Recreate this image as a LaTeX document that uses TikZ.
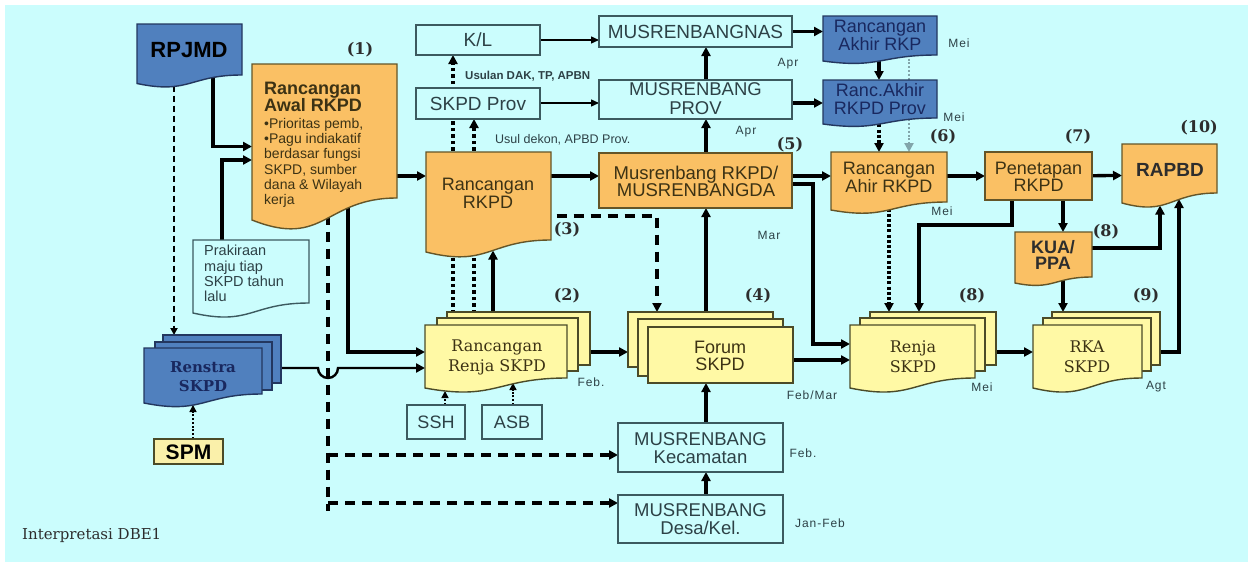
\documentclass[tikz,border=0pt]{standalone}
\usepackage{fontspec}
\setmainfont{DejaVu Serif}
\setsansfont{Liberation Sans}
\newfontfamily\arialf{Liberation Sans}
\newfontfamily\serf{DejaVu Serif}
\newfontfamily\spacedf[LetterSpace=8]{Liberation Sans}
\usetikzlibrary{arrows.meta}

\definecolor{bgc}{RGB}{203,253,253}
\definecolor{orfill}{RGB}{250,192,100}
\definecolor{orline}{RGB}{100,85,40}
\definecolor{blfill}{RGB}{80,128,190}
\definecolor{blline}{RGB}{35,55,95}
\definecolor{yefill}{RGB}{255,249,165}
\definecolor{yeline}{RGB}{75,75,40}
\definecolor{wline}{RGB}{60,90,95}
\definecolor{spmf}{RGB}{250,240,170}
\definecolor{txo}{RGB}{60,50,20}
\definecolor{txb}{RGB}{25,40,95}
\definecolor{txw}{RGB}{45,65,70}
\definecolor{dotg}{RGB}{130,165,170}
\definecolor{lblc}{RGB}{45,45,45}

\newcommand\fA[2]{\arialf\fontsize{#1}{#2}\selectfont}
\newcommand\fS[2]{\serf\fontsize{#1}{#2}\selectfont}
\newcommand\fM[2]{\spacedf\fontsize{#1}{#2}\selectfont}

% document shape: [style]{x1}{y1}{x2}{yRight}{yLeft}
\newcommand\docsh[6][]{%
  \pgfmathsetmacro\dxm{(#2+#4)/2}%
  \pgfmathsetmacro\dyc{#6+1.31*(#6-#5)}%
  \draw[#1] (#2,#3) -- (#4,#3) -- (#4,#5) .. controls (\dxm,#5) and (\dxm,\dyc) .. (#2,#6) -- cycle;}

\tikzset{
  bb/.style n args={4}{shape=rectangle, inner sep=0pt, outer sep=0pt,
    minimum width={#3-#1}, minimum height={#4-#2},
    at={({(#1+#3)/2},{(#2+#4)/2})}},
  arr/.style={-{Triangle[length=9pt,width=9pt]}},
  sarr/.style={-{Triangle[length=7pt,width=7pt]}},
  con/.style={line width=3.3pt, arr},
  thn/.style={line width=1.4pt, -{Triangle[length=8pt,width=7pt]}},
  dsh/.style={line width=3.3pt, dash pattern=on 10pt off 7pt},
  dota/.style={line width=4.5pt, dash pattern=on 3.5pt off 3pt},
  dotb/.style={line width=3.3pt, dash pattern=on 3pt off 2.2pt},
  dotc/.style={line width=1.5pt, dash pattern=on 2pt off 1.8pt},
  orng/.style={fill=orfill, draw=orline, line width=1.4pt},
  blu/.style={fill=blfill, draw=blline, line width=1.4pt},
  yelsh/.style={fill=yefill, draw=yeline, line width=1.4pt},
  whsh/.style={fill=bgc, draw=wline, line width=1.4pt},
  txt/.style={inner sep=0pt, align=center},
  lbl/.style={inner sep=0pt, text=lblc, font={\fS{16}{18}\bfseries}},
  mon/.style={inner sep=0pt, text=txw, font={\fM{12}{14}}},
}

\begin{document}
\begin{tikzpicture}[x=1pt,y=-1pt]
\fill[white] (0,0) rectangle (1248,565);
\useasboundingbox (0,0) rectangle (1248,565);
\fill[bgc] (5,5) rectangle (1248,562);

% ---------- bounding nodes ----------
\node[bb={137}{24}{242}{87}] (rpjmd) {};
\node[bb={252}{64}{397}{229}] (awal) {};
\node[bb={193}{240}{309}{317}] (prak) {};
\node[bb={144}{335}{281}{407}] (renstra) {};
\node[bb={154}{439}{223}{464}] (spm) {};
\node[bb={416}{25}{540}{55}] (kl) {};
\node[bb={416}{88}{540}{119}] (skpdprov) {};
\node[bb={599}{16}{792}{47}] (nas) {};
\node[bb={599}{80}{792}{119}] (prov) {};
\node[bb={823}{16}{937}{63}] (rkp) {};
\node[bb={823}{80}{937}{127}] (rkpdprov) {};
\node[bb={426}{152}{551}{257}] (rkpd) {};
\node[bb={599}{153}{792}{208}] (musrkpd) {};
\node[bb={831}{152}{947}{213}] (ahir) {};
\node[bb={985}{152}{1092}{200}] (penetapan) {};
\node[bb={1122}{144}{1217}{207}] (rapbd) {};
\node[bb={1015}{232}{1092}{285}] (kua) {};
\node[bb={425}{312}{590}{392}] (renja2) {};
\node[bb={628}{312}{793}{383}] (forum) {};
\node[bb={850}{312}{996}{392}] (renja) {};
\node[bb={1033}{312}{1160}{392}] (rka) {};
\node[bb={407}{405}{465}{439}] (ssh) {};
\node[bb={482}{405}{542}{439}] (asb) {};
\node[bb={618}{423}{783}{472}] (kec) {};
\node[bb={618}{495}{783}{543}] (desa) {};

\coordinate (j1) at (328,455);
\coordinate (j2) at (328,503);
\coordinate (dvend) at (328,511);

% ---------- connectors ----------
\draw[con] ([xshift=23.5pt]rpjmd.center) |- (awal.west);
\draw[con] ([xshift=-29pt]prak.center) |- ([yshift=-13.5pt]awal.west);
\draw[line width=2.4pt, dash pattern=on 6pt off 4pt, sarr] ([xshift=-15.5pt]rpjmd.center) -- ([xshift=-38.5pt]renstra.north);
\draw[dotc, sarr] ([xshift=4.5pt]spm.north) -- ([xshift=-19.5pt,yshift=-34pt]renstra.center);
\draw[con] ([yshift=-29.5pt]awal.center) -- ([yshift=28.5pt]rkpd.west);
\draw[con] ([xshift=23.5pt]awal.center) |- (renja2.west);
\draw[line width=2.4pt, arr] ([yshift=3pt]renstra.center) -- ++(105.5,0) arc[start angle=180,end angle=0,radius=10] -- ([yshift=-16pt]renja2.west);
\draw[dsh] ([xshift=3.5pt]awal.center) -- (dvend);
\draw[dsh, arr] (j1) -- ([yshift=-7.5pt]kec.west);
\draw[dsh, arr] (j2) -- ([yshift=16pt]desa.west);
\draw[dota] ([xshift=-54.5pt]renja2.center) -- ([xshift=-25pt]skpdprov.center);
\draw[dota, arr] ([xshift=-25pt]skpdprov.center) -- ([xshift=-25pt]kl.south);
\draw[dota, arr] ([xshift=-33.5pt]renja2.center) -- ([xshift=-4pt]skpdprov.south);
\draw[con] ([xshift=-14.5pt]renja2.center) -- ([xshift=4.5pt,yshift=-46pt]rkpd.center);
\draw[dsh, arr] ([yshift=-11.5pt]rkpd.center) -| ([xshift=-53.5pt]forum.north);
\draw[con] (renja2.center) -- ([yshift=-4.5pt]forum.west);
\draw[con] ([xshift=-4.5pt]forum.center) -- ([xshift=10.5pt]musrkpd.south);
\draw[con] ([xshift=5.5pt]kec.center) -- ([xshift=-4.5pt]forum.south);
\draw[con] ([xshift=5.5pt]desa.center) -- ([xshift=5.5pt]kec.south);
\draw[con] ([yshift=28.5pt]rkpd.center) -- ([yshift=4.5pt]musrkpd.west);
\draw[con] ([xshift=10.5pt]musrkpd.center) -- ([xshift=10.5pt]prov.south);
\draw[con] ([xshift=10.5pt]prov.center) -- ([xshift=10.5pt]nas.south);
\draw[thn] (kl.center) -- ([yshift=-8.5pt]nas.west);
\draw[thn] ([yshift=0.5pt]skpdprov.center) -- ([yshift=-3.5pt]prov.west);
\draw[con] (nas.center) -- ([yshift=8pt]rkp.west);
\draw[con] ([yshift=-3.5pt]prov.center) -- ([yshift=0.5pt]rkpdprov.west);
\draw[con] ([xshift=-1pt]rkp.center) -- ([xshift=-1pt]rkpdprov.north);
\draw[dotc, draw=dotg, line width=2.2pt, arr] ([xshift=29pt]rkp.center) -- ([xshift=20pt]ahir.north);
\draw[dotb, arr] ([xshift=-1pt]rkpdprov.center) -- ([xshift=-10pt]ahir.north);
\draw[con] ([yshift=4.5pt]musrkpd.center) -- ([yshift=6.5pt]ahir.west);
\draw[con] ([yshift=-3.5pt]musrkpd.center) -| ([xshift=-37pt,yshift=8pt]renja.west) -- ([yshift=8pt]renja.west);
\draw[con] ([yshift=-12.5pt]forum.center) -- ([yshift=-8pt]renja.west);
\draw[dotb, arr] (ahir.center) -- ([xshift=-34pt]renja.north);
\draw[con] ([xshift=-26.5pt]penetapan.center) |- ([xshift=-4pt,yshift=87pt]renja.north) -- ([xshift=-4pt]renja.north);
\draw[con] ([yshift=6.5pt]ahir.center) -- (penetapan.west);
\draw[con] (penetapan.center) -- (rapbd.west);
\draw[con] ([xshift=24.5pt]penetapan.center) -- ([xshift=9.5pt]kua.north);
\draw[con] ([yshift=10.5pt]kua.center) -| ([xshift=-9.5pt,yshift=-30pt]rapbd.center);
\draw[con] ([xshift=9.5pt]kua.center) -- ([xshift=-33.5pt]rka.north);
\draw[con] (renja.center) -- (rka.west);
\draw[con] (rka.center) -| ([xshift=9.5pt,yshift=-23.5pt]rapbd.center);
\draw[dotc, sarr] ([xshift=9pt]ssh.north) -- ([xshift=-62.5pt,yshift=-39pt]renja2.center);
\draw[dotc, sarr] ([xshift=1pt]asb.north) -- ([xshift=5.5pt,yshift=-31pt]renja2.center);

% ---------- shapes ----------
\docsh[blu]{137}{24}{242}{75}{83.5}
\docsh[orng]{252}{64}{397}{198}{220}
\docsh[whsh]{193}{240}{309}{303}{313}
\docsh[orng]{426}{152}{551}{240}{252}
\docsh[orng]{831}{152}{947}{202}{210}
\docsh[orng]{1122}{144}{1217}{193}{203}
\docsh[orng]{1015}{232}{1092}{277}{283}
\docsh[blu]{823}{16}{937}{55}{61}
\docsh[blu]{823}{80}{937}{118}{124}
% stacks
\draw[blu] (163,335) rectangle (281,383);
\draw[blu] (155,342) rectangle (272,390);
\docsh[blu]{144}{348}{262}{394}{403}
\draw[yelsh] (447,312) rectangle (590,365);
\draw[yelsh] (437,318) rectangle (578,371);
\docsh[yelsh]{425}{325}{567}{378}{388}
\draw[yelsh] (628,312) rectangle (773,367);
\draw[yelsh] (638,319) rectangle (783,376);
\draw[yelsh] (648,327) rectangle (793,383);
\draw[yelsh] (870,312) rectangle (996,365);
\draw[yelsh] (860,318) rectangle (985,371);
\docsh[yelsh]{850}{325}{975}{378}{388}
\draw[yelsh] (1052,312) rectangle (1160,365);
\draw[yelsh] (1043,318) rectangle (1151,371);
\docsh[yelsh]{1033}{325}{1142}{378}{388}
% rectangles
\draw[whsh] (kl.north west) rectangle (kl.south east);
\draw[whsh] (skpdprov.north west) rectangle (skpdprov.south east);
\draw[whsh] (nas.north west) rectangle (nas.south east);
\draw[whsh] (prov.north west) rectangle (prov.south east);
\draw[orng] (musrkpd.north west) rectangle (musrkpd.south east);
\draw[orng] (penetapan.north west) rectangle (penetapan.south east);
\draw[whsh] (ssh.north west) rectangle (ssh.south east);
\draw[whsh] (asb.north west) rectangle (asb.south east);
\draw[whsh] (kec.north west) rectangle (kec.south east);
\draw[whsh] (desa.north west) rectangle (desa.south east);
\draw[fill=spmf, draw=yeline, line width=1.4pt] (spm.north west) rectangle (spm.south east);

% ---------- texts ----------
\node[txt, font={\fA{22}{24}\bfseries}] (rpjmd-t) at (189,50) {RPJMD};
\node[txt, anchor=north west, align=left, text=txo, font={\fA{18}{17}\bfseries}] (awal-t1) at (264,82) {Rancangan\\Awal RKPD};
\node[txt, anchor=north west, align=left, text=txo, font={\fA{14}{15.3}}] (awal-t2) at (264,118) {•Prioritas pemb,\\•Pagu indiakatif\\berdasar fungsi\\SKPD, sumber\\dana \& Wilayah\\kerja};
\node[txt, anchor=north west, align=left, text=txw, font={\fA{14.5}{15.3}}] (prak-t) at (204,245) {Prakiraan\\maju tiap\\SKPD tahun\\lalu};
\node[txt, text=txb, font={\fS{15}{19}\bfseries}] (renstra-t) at (203,376.5) {Renstra\\SKPD};
\node[txt, font={\fA{21}{23}\bfseries}] (spm-t) at (188.5,452) {SPM};
\node[txt, text=txw, font={\fA{19}{21}}] (kl-t) at (478,40) {K/L};
\node[txt, text=txw, font={\fA{19}{21}}] (skpdprov-t) at (478,103.5) {SKPD Prov};
\node[txt, text=txw, font={\fA{19}{21}}] (nas-t) at (695.5,31.5) {MUSRENBANGNAS};
\node[txt, text=txw, font={\fA{18.5}{19}}] (prov-t) at (695.5,99) {MUSRENBANG\\PROV};
\node[txt, text=txb, font={\fA{18}{16.5}}] (rkp-t) at (880,35) {Rancangan\\Akhir RKP};
\node[txt, text=txb, font={\fA{18}{18}}] (rkpdprov-t) at (880,99) {Ranc.Akhir\\RKPD Prov};
\node[txt, text=txo, font={\fA{18}{17.5}}] (rkpd-t) at (488,193.5) {Rancangan\\RKPD};
\node[txt, text=txo, font={\fA{18.5}{17.5}}] (musrkpd-t) at (696,181.5) {Musrenbang RKPD/\\MUSRENBANGDA};
\node[txt, text=txo, font={\fA{18}{18.5}}] (ahir-t) at (889,177.5) {Rancangan\\Ahir RKPD};
\node[txt, text=txo, font={\fA{18}{17}}] (penetapan-t) at (1038.5,176.5) {Penetapan\\RKPD};
\node[txt, text=lblc, font={\fA{19}{21}\bfseries}] (rapbd-t) at (1170,170) {RAPBD};
\node[txt, text=lblc, font={\fA{18}{16}\bfseries}] (kua-t) at (1053,255) {KUA/\\PPA};
\node[txt, text=txo, font={\fS{16}{20}}] (renja2-t) at (497,357) {Rancangan\\Renja SKPD};
\node[txt, text=txo, font={\fA{18}{17}}] (forum-t) at (720,355.5) {Forum\\SKPD};
\node[txt, text=txo, font={\fS{16}{20}}] (renja-t) at (913,357) {Renja\\SKPD};
\node[txt, text=txo, font={\fS{16}{20}}] (rka-t) at (1087,357) {RKA\\SKPD};
\node[txt, text=txw, font={\fA{18}{20}}] (ssh-t) at (436,422) {SSH};
\node[txt, text=txw, font={\fA{18}{20}}] (asb-t) at (512,422) {ASB};
\node[txt, text=txw, font={\fA{18.5}{18}}] (kec-t) at (700.5,448) {MUSRENBANG\\Kecamatan};
\node[txt, text=txw, font={\fA{18.5}{18}}] (desa-t) at (700.5,519) {MUSRENBANG\\Desa/Kel.};

% small labels
\node[inner sep=0pt, anchor=west, text=txw, font={\fA{11.5}{13}\bfseries}] (usulan) at (465,76) {Usulan DAK, TP, APBN};
\node[inner sep=0pt, anchor=west, text=txw, font={\fA{12.5}{14}}] (usul) at (495,140) {Usul dekon, APBD Prov.};
\node[inner sep=0pt, anchor=west, text=lblc, font={\fS{15}{17}}] (interp) at (22,535) {Interpretasi DBE1};

\node[lbl] (n1) at (360,50) {(1)};
\node[lbl] (n2) at (567,296) {(2)};
\node[lbl] (n3) at (567,230) {(3)};
\node[lbl] (n4) at (758,296) {(4)};
\node[lbl] (n5) at (790,145) {(5)};
\node[lbl] (n6) at (943,137) {(6)};
\node[lbl] (n7) at (1078,137) {(7)};
\node[lbl] (n8a) at (1106,232) {(8)};
\node[lbl] (n8b) at (972,296) {(8)};
\node[lbl] (n9) at (1146,296) {(9)};
\node[lbl] (n10) at (1199,128) {(10)};

\node[mon] (m1) at (788,64) {Apr};
\node[mon] (m2) at (746,132) {Apr};
\node[mon] (m3) at (769,235) {Mar};
\node[mon] (m4) at (959,43) {Mei};
\node[mon] (m5) at (954,117) {Mei};
\node[mon] (m6) at (942,211) {Mei};
\node[mon] (m7) at (591,382) {Feb.};
\node[mon] (m8) at (812,395) {Feb/Mar};
\node[mon] (m9) at (982,387) {Mei};
\node[mon] (m10) at (1156,387) {Agt};
\node[mon] (m11) at (803,453) {Feb.};
\node[mon] (m12) at (820,523) {Jan-Feb};
\end{tikzpicture}
\end{document}
